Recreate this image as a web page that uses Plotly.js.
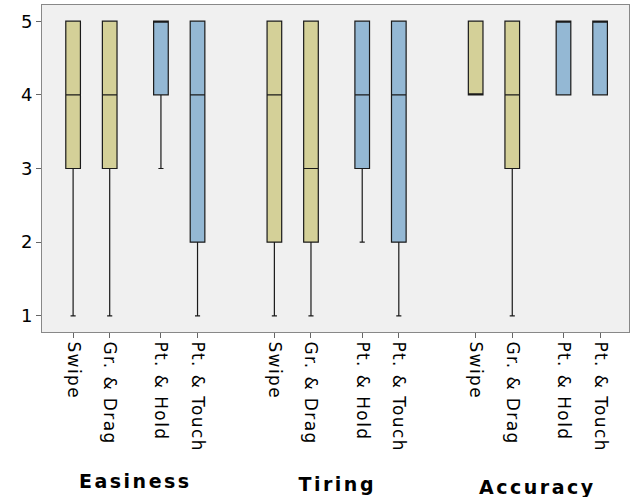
<!DOCTYPE html>
<html>
<head>
<meta charset="utf-8">
<script src="https://cdn.plot.ly/plotly-3.0.1.min.js"></script>
<style>
html,body{margin:0;padding:0;background:#fff;}
#chart{width:631px;height:497px;}
#chart .xtick text{letter-spacing:1.4px;}
#chart .annotation-text{letter-spacing:2.5px;}
</style>
</head>
<body>
<div id="chart"></div>
<script>
// ---- data ----
var groups = ["Easiness", "Tiring", "Accuracy"];
var techniques = ["Swipe", "Gr. & Drag", "Pt. & Hold", "Pt. & Touch"];
// per group: [Swipe, Gr.&Drag, Pt.&Hold, Pt.&Touch]
var minVals    = [[1, 1, 3, 1], [1, 1, 2, 1], [4, 1, 4, 4]];
var q1Vals     = [[3, 3, 4, 2], [2, 2, 3, 2], [4, 3, 4, 4]];
var medianVals = [[4, 4, 5, 4], [4, 3, 4, 4], [4, 4, 5, 5]];
var q3Vals     = [[5, 5, 5, 5], [5, 5, 5, 5], [5, 5, 5, 5]];
var maxVals    = [[5, 5, 5, 5], [5, 5, 5, 5], [5, 5, 5, 5]];
var yTicks = [1, 2, 3, 4, 5];

// ---- layout helpers ----
var groupGap = 5.5;
var inGroupOffset = [0, 1, 2.4, 3.4];
var colorTech = ["#d4d098", "#d4d098", "#94b8d4", "#94b8d4"];

var traces = [];
var tickvals = [], ticktext = [];
groups.forEach(function (g, gi) {
  techniques.forEach(function (t, ti) {
    var xpos = gi * groupGap + inGroupOffset[ti];
    tickvals.push(xpos);
    ticktext.push(t);
    traces.push({
      type: "box",
      x: [xpos],
      q1: [q1Vals[gi][ti]],
      median: [medianVals[gi][ti]],
      q3: [q3Vals[gi][ti]],
      lowerfence: [minVals[gi][ti]],
      upperfence: [maxVals[gi][ti]],
      width: 0.4,
      whiskerwidth: 0.35,
      fillcolor: colorTech[ti],
      line: { color: "#1a1a1a", width: 1.2 },
      boxpoints: false,
      hoverinfo: "skip",
      showlegend: false
    });
  });
});

var plotTop = 5, plotBottom = 332, plotH = plotBottom - plotTop;
var labelY = [481, 484, 487];
var annotations = groups.map(function (g, gi) {
  return {
    text: "<b>" + g + "</b>",
    xref: "x", yref: "paper",
    x: gi * groupGap + (inGroupOffset[0] + inGroupOffset[3]) / 2,
    y: (plotBottom - labelY[gi]) / plotH,
    xanchor: "center", yanchor: "middle",
    showarrow: false,
    font: { family: "DejaVu Sans, Verdana, sans-serif", size: 19, color: "#000" }
  };
});

var layout = {
  width: 631, height: 497,
  margin: { l: 42, r: 2, t: plotTop, b: 497 - plotBottom },
  paper_bgcolor: "#ffffff",
  plot_bgcolor: "#f0f0f0",
  boxmode: "overlay",
  font: { family: "DejaVu Sans, Verdana, sans-serif", color: "#000" },
  xaxis: {
    range: [-0.85, 15.19],
    tickmode: "array", tickvals: tickvals, ticktext: ticktext,
    tickangle: 90,
    ticks: "outside", ticklen: 5, tickcolor: "#666",
    tickfont: { size: 17, color: "#000" },
    showgrid: false, zeroline: false,
    showline: true, linecolor: "#888", linewidth: 1, mirror: true
  },
  yaxis: {
    range: [0.78, 5.22],
    tickmode: "array", tickvals: yTicks,
    ticks: "outside", ticklen: 5, tickcolor: "#666",
    tickfont: { size: 18, color: "#000" },
    showgrid: false, zeroline: false,
    showline: true, linecolor: "#888", linewidth: 1, mirror: true
  },
  annotations: annotations
};

Plotly.newPlot("chart", traces, layout, { displayModeBar: false, staticPlot: true });
</script>
</body>
</html>
